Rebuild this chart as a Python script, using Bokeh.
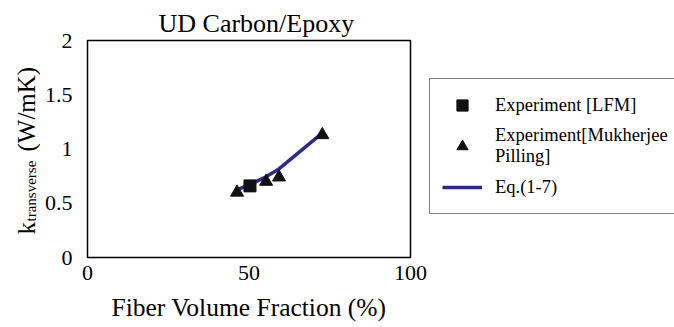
import math
from bokeh.plotting import figure
from bokeh.layouts import row
from bokeh.models import Legend, LegendItem, FixedTicker, Range1d
from bokeh.core.properties import value
from bokeh.embed import file_html
from bokeh.resources import INLINE

FONT = "Liberation Serif"

# ---- data ----
x_lfm = [50.3]
y_lfm = [0.66]
x_muk = [46.3, 55.3, 59.3, 72.7]
y_muk = [0.60, 0.70, 0.74, 1.13]
x_eq = [46.0, 50.0, 55.0, 59.0, 72.0]
y_eq = [0.62, 0.67, 0.74, 0.81, 1.13]

xticks = [0, 50, 100]
xtick_labels = ["0", "50", "100"]
yticks = [0, 0.5, 1, 1.5, 2]
ytick_labels = ["0", "0.5", "1", "1.5", "2"]

H = 327
LW = 40     # strip holding the y-axis title
MW = 389    # main plot figure
RW = 674 - LW - MW  # legend strip

SQ_STYLE = dict(marker="square", size=12, color="#111111")
TRI_STYLE = dict(marker="triangle", size=13, color="#111111")
LINE_STYLE = dict(line_width=3.5, color="#2e2a86")


def bare(fig):
    fig.grid.visible = False
    fig.outline_line_color = None
    fig.border_fill_color = "white"
    fig.background_fill_color = "white"


# ---- y-axis title strip: k_transverse (W/mK) ----
ylab = figure(width=LW, height=H, x_range=Range1d(0, LW), y_range=Range1d(0, 2),
              output_backend="svg", toolbar_location=None,
              x_axis_location=None, y_axis_location=None,
              min_border_left=0, min_border_right=0, min_border_top=40, min_border_bottom=70)
bare(ylab)
common = dict(angle=math.pi / 2, text_font=value(FONT), text_color="black",
              text_align="left", text_baseline="alphabetic")
ylab.text(x=[26], y=[0.212], text=["k"], text_font_size="25px", **common)
ylab.text(x=[30], y=[0.332], text=["transverse"], text_font_size="15px", **common)
ylab.text(x=[26], y=[0.977], text=["(W/mK)"], text_font_size="25px", **common)

# ---- main plot ----
p = figure(width=MW, height=H, x_range=Range1d(0, 100), y_range=Range1d(0, 2),
           output_backend="svg", toolbar_location=None,
           min_border_left=87 - LW, min_border_right=19, min_border_top=40, min_border_bottom=70,
           title="UD Carbon/Epoxy")

p.title.text_font = FONT
p.title.text_font_style = "normal"
p.title.text_font_size = "26px"
p.title.align = "left"
p.title.offset = 71
p.title.text_color = "black"
p.title.standoff = 6

p.grid.visible = False
p.outline_line_color = "black"
p.outline_line_width = 1.5
p.background_fill_color = "white"
p.border_fill_color = "white"

for ax in (p.xaxis, p.yaxis):
    ax.axis_line_color = None
    ax.major_tick_line_color = None
    ax.minor_tick_line_color = None
    ax.major_label_text_font = FONT
    ax.major_label_text_font_size = "22px"
    ax.major_label_text_color = "black"

p.xaxis.ticker = FixedTicker(ticks=xticks)
p.xaxis.major_label_overrides = dict(zip(xticks, xtick_labels))
p.xaxis.major_label_standoff = 2
p.xaxis.axis_label = "Fiber Volume Fraction (%)"
p.xaxis.axis_label_text_font = FONT
p.xaxis.axis_label_text_font_style = "normal"
p.xaxis.axis_label_text_font_size = "25.5px"
p.xaxis.axis_label_text_color = "black"
p.xaxis.axis_label_standoff = 10

p.yaxis.ticker = FixedTicker(ticks=yticks)
p.yaxis.major_label_overrides = dict(zip(yticks, ytick_labels))
p.yaxis.major_label_standoff = 9

p.line(x_eq, y_eq, **LINE_STYLE)
p.scatter(x_lfm, y_lfm, **SQ_STYLE)
p.scatter(x_muk, y_muk, **TRI_STYLE)

# ---- legend strip (key glyphs reuse the series; the view range keeps them hidden) ----
leg = figure(width=RW, height=H, x_range=Range1d(1000, 1001), y_range=Range1d(1000, 1001),
             output_backend="svg", toolbar_location=None,
             x_axis_location=None, y_axis_location=None,
             min_border_left=0, min_border_right=0, min_border_top=40, min_border_bottom=70)
bare(leg)
k_line = leg.line(x_eq, y_eq, **LINE_STYLE)
k_sq = leg.scatter(x_lfm, y_lfm, **SQ_STYLE)
k_tri = leg.scatter(x_muk, y_muk, **TRI_STYLE)

legend = Legend(items=[
    LegendItem(label="Experiment [LFM]", renderers=[k_sq]),
    LegendItem(label="Experiment[Mukherjee\nPilling]", renderers=[k_tri]),
    LegendItem(label="Eq.(1-7)", renderers=[k_line]),
], location=(0, 43), glyph_width=40, glyph_height=28,
    label_text_font=FONT, label_text_font_size="18.5px", label_text_color="black",
    border_line_color="black", border_line_width=1.5, background_fill_alpha=1.0,
    padding=12, spacing=6, label_standoff=13, margin=0)
leg.add_layout(legend, "center")

layout = row(ylab, p, leg, spacing=0)
open("out.html", "w").write(file_html(layout, INLINE))
